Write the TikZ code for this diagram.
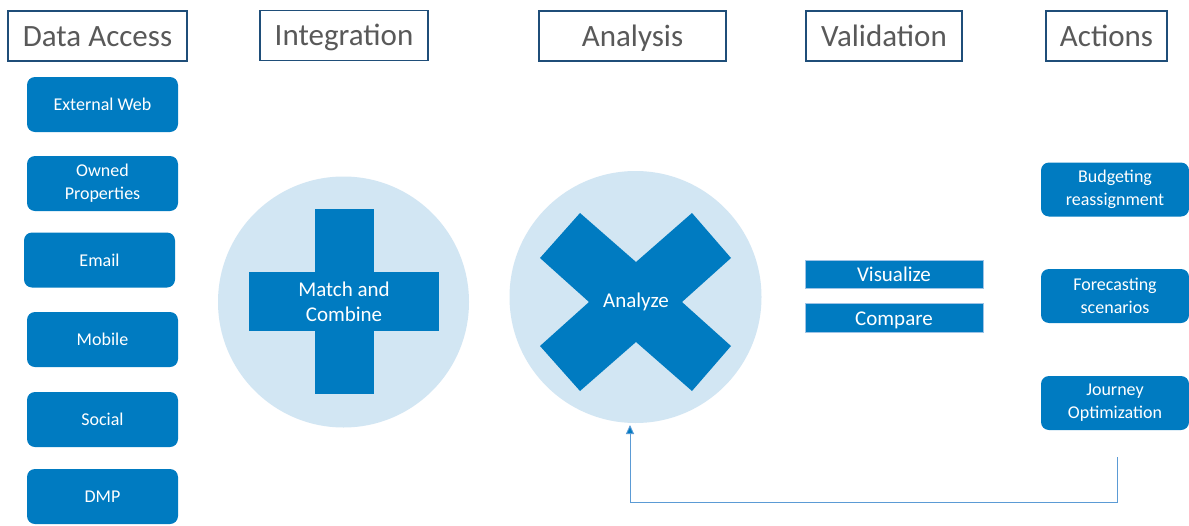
\documentclass[tikz,border=0pt]{standalone}
\usepackage{fontspec}
\setmainfont{Carlito}
\usetikzlibrary{arrows.meta}
\definecolor{mainblue}{RGB}{0,123,193}
\definecolor{lightblue}{RGB}{210,230,243}
\definecolor{hdrborder}{RGB}{31,78,121}
\definecolor{hdrtext}{RGB}{89,89,89}
\definecolor{linkblue}{RGB}{91,155,213}
\begin{document}
\begin{tikzpicture}[x=1pt,y=-1pt,
 hdr/.style={draw=hdrborder, line width=1.2pt, fill=white, text=hdrtext, font=\fontsize{31}{34}\selectfont, inner sep=0pt, minimum height=50pt, text height=20pt, text depth=0pt},
 src/.style={fill=mainblue, rounded corners=8pt, text=white, font=\fontsize{18}{23}\selectfont, align=center, inner sep=0pt, minimum width=151pt, minimum height=55pt},
 act/.style={src, minimum width=148pt, minimum height=54pt},
 valbox/.style={fill=mainblue, draw=linkblue!60, line width=0.6pt, text=white, font=\fontsize{21}{24}\selectfont, inner sep=0pt, minimum width=178pt, minimum height=28.5pt, text height=14pt, text depth=0pt},
 bigcirc/.style={circle, fill=lightblue, draw=none, inner sep=0pt},
 crossbar/.style={fill=mainblue, inner sep=0pt},
 bigtext/.style={text=white, font=\fontsize{21}{25}\selectfont, align=center},
 fb/.style={draw=linkblue, line width=0.9pt, -{Triangle[length=9pt,width=8pt,fill=mainblue]}}]
\path[use as bounding box] (0,0) rectangle (1189,525);
\fill[white] (0,0) rectangle (1189,525);
% headers
\node[hdr, minimum width=179pt] (hda) at (97.5,36) {Data Access};
\node[hdr, minimum width=168pt] (hin) at (344,35.5) {Integration};
\node[hdr, minimum width=187pt] (han) at (632.5,36) {Analysis};
\node[hdr, minimum width=156pt] (hva) at (884,36) {Validation};
\node[hdr, minimum width=121pt] (hac) at (1106.5,36) {Actions};
% data sources
\node[src] (s1) at (102.5,104.5) {External Web};
\node[src] (s2) at (102.5,183.5) {Owned\\Properties};
\node[src] (s3) at (99.5,260) {Email};
\node[src] (s4) at (102.5,339.5) {Mobile};
\node[src] (s5) at (102.5,419.5) {Social};
\node[src] (s6) at (102.5,496.5) {DMP};
% integration circle with plus
\node[bigcirc, minimum size=251pt] (c1) at (343.5,302) {};
\node[crossbar, minimum width=59pt, minimum height=185pt] (pv) at (344.5,301.5) {};
\node[crossbar, minimum width=190pt, minimum height=59pt] (ph) at (344,301.5) {};
\node[bigtext] (mc) at (344,302) {Match and\\Combine};
% analysis circle with X
\node[bigcirc, minimum size=252pt] (c2) at (635.5,297) {};
\fill[mainblue, shift={(636,302)}] (-96,-44) -- (-56,-89) -- (0,-40) -- (56,-89) -- (95,-44) -- (46,0) -- (95,44) -- (56,89) -- (0,40) -- (-56,89) -- (-96,44) -- (-47,0) -- cycle;
\node[bigtext] (az) at (636,302) {Analyze};
% validation
\node[valbox] (vis) at (894,274.5) {Visualize};
\node[valbox] (cmp) at (894,318) {Compare};
% actions
\node[act] (a1) at (1115,189.5) {Budgeting\\reassignment};
\node[act] (a2) at (1115,296) {Forecasting\\scenarios};
\node[act] (a3) at (1115,403) {Journey\\Optimization};
% feedback loop
\coordinate (fbstart) at (1117,457);
\coordinate (fbbottom) at (630,502);
\coordinate (fbend) at (630,425);
\draw[fb] (fbstart) |- (fbbottom) -- (fbend);
\end{tikzpicture}
\end{document}
